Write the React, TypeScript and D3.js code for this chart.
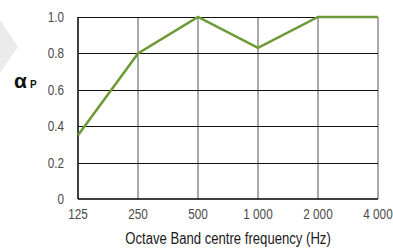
import { useEffect, useRef } from 'react';
import * as d3 from 'd3';

const bands = ['125', '250', '500', '1 000', '2 000', '4 000'];
const alphaP = [0.35, 0.8, 1.0, 0.83, 1.0, 1.0];
const yTicks = [0, 0.2, 0.4, 0.6, 0.8, 1.0];

export default function App() {
  const svgRef = useRef<SVGSVGElement>(null);

  useEffect(() => {
    if (!svgRef.current) return;
    const svg = d3.select(svgRef.current);
    svg.selectAll('*').remove();

    const margin = { top: 17, right: 15, bottom: 49, left: 78 };
    const W = 393;
    const H = 248;
    const width = W - margin.left - margin.right;
    const height = H - margin.top - margin.bottom;
    const font = "'Liberation Sans', Arial, sans-serif";
    const squeeze = 0.84; // condensed look

    // grey chevron at the left edge
    svg
      .append('path')
      .attr('d', 'M0,20 L18,47 L0,73 Z')
      .attr('fill', '#ebebeb');

    const g = svg.append('g').attr('transform', `translate(${margin.left},${margin.top})`);

    const x = d3.scalePoint().domain(bands).range([0, width]);
    const y = d3.scaleLinear().domain([0, 1]).range([height, 0]);

    // vertical grid
    g.selectAll('.vgrid')
      .data(bands.slice(1))
      .enter()
      .append('line')
      .attr('x1', (d) => x(d)!)
      .attr('x2', (d) => x(d)!)
      .attr('y1', 0)
      .attr('y2', height)
      .attr('stroke', '#555')
      .attr('stroke-width', 1);

    // horizontal grid
    g.selectAll('.hgrid')
      .data(yTicks.slice(1))
      .enter()
      .append('line')
      .attr('x1', 0)
      .attr('x2', width)
      .attr('y1', (d) => Math.round(y(d)) + 0.5)
      .attr('y2', (d) => Math.round(y(d)) + 0.5)
      .attr('stroke', '#111')
      .attr('stroke-width', 1);

    // axes lines
    g.append('line')
      .attr('x1', 0)
      .attr('x2', 0)
      .attr('y1', 0)
      .attr('y2', height)
      .attr('stroke', '#000')
      .attr('stroke-width', 1.5);
    g.append('line')
      .attr('x1', 0)
      .attr('x2', width)
      .attr('y1', height)
      .attr('y2', height)
      .attr('stroke', '#000')
      .attr('stroke-width', 1.5);

    // y tick labels
    g.selectAll('.ylab')
      .data(yTicks)
      .enter()
      .append('text')
      .attr('transform', (d) => `translate(-14,${y(d)}) scale(${squeeze},1)`)
      .attr('dy', '0.35em')
      .attr('text-anchor', 'end')
      .attr('font-family', font)
      .attr('font-size', 14)
      .attr('fill', '#4a4a4a')
      .text((d) => (d === 0 ? '0' : d.toFixed(1)));

    // x tick labels
    g.selectAll('.xlab')
      .data(bands)
      .enter()
      .append('text')
      .attr('transform', (d) => `translate(${x(d)},${height + 20}) scale(${squeeze},1)`)
      .attr('text-anchor', 'middle')
      .attr('font-family', font)
      .attr('font-size', 14)
      .attr('fill', '#4a4a4a')
      .text((d) => d);

    // x title
    g.append('text')
      .attr('transform', `translate(${width / 2},${height + 45}) scale(0.82,1)`)
      .attr('text-anchor', 'middle')
      .attr('font-family', font)
      .attr('font-size', 16)
      .attr('fill', '#1a1a1a')
      .text('Octave Band centre frequency (Hz)');

    // y label alpha P
    const lab = svg
      .append('text')
      .attr('x', 14)
      .attr('y', 88)
      .attr('font-family', font)
      .attr('font-weight', 'bold')
      .attr('fill', '#111');
    lab.append('tspan').attr('font-size', 21).text('α');
    lab.append('tspan').attr('font-size', 10).attr('dx', 3).text('P');

    // data line
    const line = d3
      .line<number>()
      .x((_, i) => x(bands[i])!)
      .y((d) => y(d));
    g.append('path')
      .datum(alphaP)
      .attr('d', line)
      .attr('fill', 'none')
      .attr('stroke', '#6d9a36')
      .attr('stroke-width', 2.5)
      .attr('stroke-linejoin', 'miter');
  }, []);

  return (
    <svg
      ref={svgRef}
      width={393}
      height={248}
      style={{ position: 'absolute', left: 0, top: 0, background: '#fff' }}
    />
  );
}
